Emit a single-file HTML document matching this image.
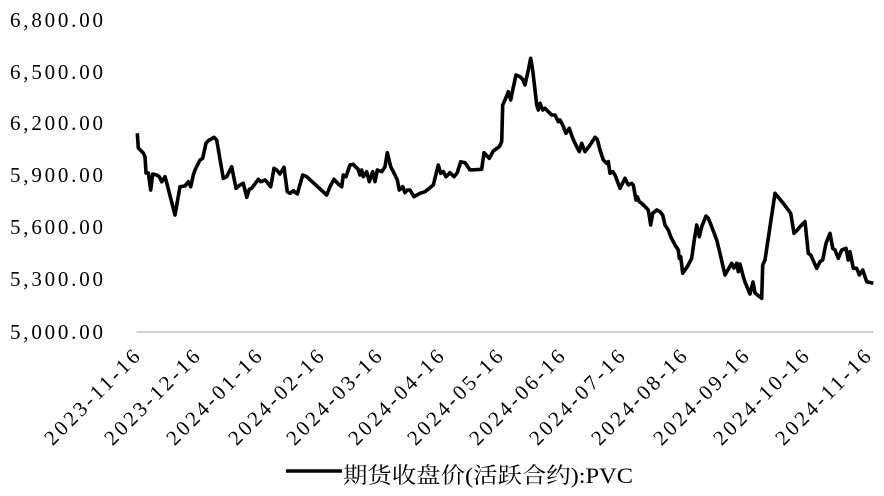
<!DOCTYPE html>
<html>
<head>
<meta charset="utf-8">
<style>
  html, body { margin: 0; padding: 0; background: #ffffff; }
  svg { display: block; }
  .yl { font-family: "Liberation Serif", "Noto Serif CJK SC", serif; font-size: 21px; fill: #000; }
  .xl { font-family: "Liberation Serif", "Noto Serif CJK SC", serif; font-size: 21px; fill: #000; }
  .lg { font-family: "Liberation Serif", "Noto Serif CJK SC", serif; font-size: 22px; fill: #000; }
</style>
</head>
<body>
<svg width="884" height="496" viewBox="0 0 884 496" xmlns="http://www.w3.org/2000/svg">
  <rect x="0" y="0" width="884" height="496" fill="#ffffff"/>

  <!-- Y axis labels -->
  <text class="yl" x="10" y="27" textLength="93" lengthAdjust="spacing">6,800.00</text>
  <text class="yl" x="10" y="79" textLength="93" lengthAdjust="spacing">6,500.00</text>
  <text class="yl" x="10" y="130" textLength="93" lengthAdjust="spacing">6,200.00</text>
  <text class="yl" x="10" y="182" textLength="93" lengthAdjust="spacing">5,900.00</text>
  <text class="yl" x="10" y="234" textLength="93" lengthAdjust="spacing">5,600.00</text>
  <text class="yl" x="10" y="286" textLength="93" lengthAdjust="spacing">5,300.00</text>
  <text class="yl" x="10" y="339" textLength="93" lengthAdjust="spacing">5,000.00</text>

  <!-- X axis line -->
  <line x1="136.5" y1="332" x2="873.5" y2="332" stroke="#c4c4c4" stroke-width="1.6"/>

  <!-- X axis labels (rotated -45) -->
  <g class="xl">
    <text transform="translate(141,358) rotate(-45)" text-anchor="end" textLength="125" lengthAdjust="spacing">2023-11-16</text>
    <text transform="translate(201,358) rotate(-45)" text-anchor="end" textLength="125" lengthAdjust="spacing">2023-12-16</text>
    <text transform="translate(263,358) rotate(-45)" text-anchor="end" textLength="125" lengthAdjust="spacing">2024-01-16</text>
    <text transform="translate(325,358) rotate(-45)" text-anchor="end" textLength="125" lengthAdjust="spacing">2024-02-16</text>
    <text transform="translate(383,358) rotate(-45)" text-anchor="end" textLength="125" lengthAdjust="spacing">2024-03-16</text>
    <text transform="translate(445,358) rotate(-45)" text-anchor="end" textLength="125" lengthAdjust="spacing">2024-04-16</text>
    <text transform="translate(504,358) rotate(-45)" text-anchor="end" textLength="125" lengthAdjust="spacing">2024-05-16</text>
    <text transform="translate(566,358) rotate(-45)" text-anchor="end" textLength="125" lengthAdjust="spacing">2024-06-16</text>
    <text transform="translate(626,358) rotate(-45)" text-anchor="end" textLength="125" lengthAdjust="spacing">2024-07-16</text>
    <text transform="translate(688,358) rotate(-45)" text-anchor="end" textLength="125" lengthAdjust="spacing">2024-08-16</text>
    <text transform="translate(750,358) rotate(-45)" text-anchor="end" textLength="125" lengthAdjust="spacing">2024-09-16</text>
    <text transform="translate(810,358) rotate(-45)" text-anchor="end" textLength="125" lengthAdjust="spacing">2024-10-16</text>
    <text transform="translate(872,358) rotate(-45)" text-anchor="end" textLength="125" lengthAdjust="spacing">2024-11-16</text>
  </g>

  <!-- Series -->
  <polyline fill="none" stroke="#000" stroke-width="3.6" stroke-linejoin="round" stroke-linecap="butt"
    points="137.3,133.3 138.3,148 143.3,153 145,156.7 146,173 148.3,173 150.7,190 152.7,174 156.7,175 159.3,176.7 161.7,181.7 165,176.7 167.3,185 175,215 180,186.7 185,186 188.3,181.7 190.7,186.7 193.3,175 195,170 200,160 202.7,158.3 206,143.3 208.3,140.7 214,137.3 216.7,140 223.3,178.3 226.7,176.7 231.7,166.7 236,188.3 240,185 243.3,183.3 246.7,197.3 249.3,189.3 251.7,188.3 258.3,179.3 260.7,181.7 265,180 266.7,181.7 270.7,186.7 274,168.3 276.7,170 280,174 284,167.3 287.3,191.7 290,193.3 293.3,190.7 297.3,194 302.7,175 306.7,176.7 326.7,195 330,186.7 334,179.3 338.3,184 341.7,186.7 343.3,175 346,176.7 350,165 353.3,164.3 356,167.3 358,169 360,175 361.7,170 363.3,176.7 366.7,171.7 369.3,181.7 372.7,171.7 375,181.7 377.3,170 381.7,171.7 385,166.7 387.3,152.7 390.7,166.7 395,175 397.3,180 399.3,190 402.7,186.7 405,192.7 407.3,190 410,190 414,196.7 420,193.3 425,191.7 429.3,188.3 433.3,185 438.3,165 440.7,173.3 443.3,171.7 446,176.7 450,172.7 454,176.7 457.3,172.7 460.7,161.7 465,162.7 470,170 481.7,169.3 484,152.7 487,156 489.3,158.3 493.3,151 496.7,148.5 499.3,146.7 501.7,141.7 502.7,105 505,100 508.3,91.7 510.7,100 512.7,90 516,75 520,76.7 522.7,79.3 525,85 528.3,70 530.7,58.3 532.7,70 536.7,105 538.3,110 540,103.3 542.7,110 545,108.3 548.3,111.7 551.7,115 555,115 558.3,121.7 560,120 562.7,125 566,133.3 569.3,128.3 572.7,138.3 576.7,146.7 579.3,151.7 581.7,143.3 585,151.7 590,145 595,137.3 597.3,139.3 600,150 603.3,160 606.7,163.3 608.3,161.7 610,173.3 612.7,171.7 615,175 620,188.3 625,178.3 628.3,185 631.7,183.3 633.3,185 636,200 637.3,196.7 639.3,201.7 641.7,203.3 646.7,208.3 648.3,210 650.7,225 652.7,213.3 656.7,210 660,211.7 662.7,215 665,225 668.3,230 670.7,236.7 675,245 678.3,250 679.3,258.3 680.7,256.7 682.7,273.3 687.3,266.7 691.7,258.3 694,241.7 696.7,225 699.3,236.7 701.7,226.7 706,216 708.3,218.3 711.7,226.7 716.7,240 720,253.3 725,275 731.7,263.3 734,268 736.7,263.3 738.3,271.7 740,264 743.3,276.7 745,282 750,294 753,282 755,293 761.7,298.3 762.7,265 765,260 775,193.3 783.3,203.3 790.7,213.3 794,233.3 797.3,230 800,226.7 805,221.7 808.3,253.3 810.7,255 816.7,268.3 820,261.7 822.7,260 826,243.3 830,233.3 832.7,248.3 835,250 838.3,258.3 841.7,250 846,248.3 848.3,260 850,251.7 853.3,268.3 856.7,268.3 859.3,275 862.7,270 866.7,281.7 873.3,283.3"/>

  <!-- Legend -->
  <line x1="286" y1="471" x2="342" y2="471" stroke="#000" stroke-width="3.6"/>
  <text class="lg" x="343" y="483" textLength="290" lengthAdjust="spacingAndGlyphs">期货收盘价(活跃合约):PVC</text>
</svg>
</body>
</html>
